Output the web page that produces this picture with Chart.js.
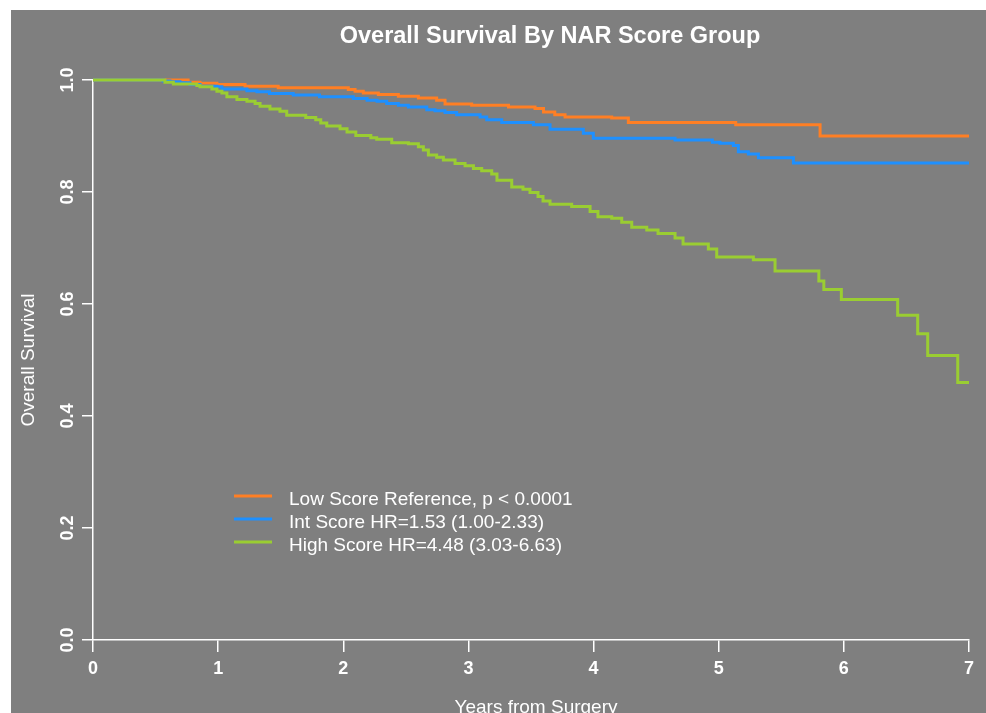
<!DOCTYPE html>
<html>
<head>
<meta charset="utf-8">
<script src="https://cdn.jsdelivr.net/npm/chart.js@4.4.0/dist/chart.umd.min.js"></script>
<style>
html,body{margin:0;padding:0;background:#ffffff;}
#wrap{width:986px;height:713px;}
canvas{display:block;}
</style>
</head>
<body>
<div id="wrap"><canvas id="c" width="986" height="713"></canvas></div>
<script>
// ---------- texts ----------
const TITLE = 'Overall Survival By NAR Score Group';
const X_TITLE = 'Years from Surgery';
const Y_TITLE = 'Overall Survival';
const X_TICKS = [0, 1, 2, 3, 4, 5, 6, 7];
const Y_TICKS = [0, 0.2, 0.4, 0.6, 0.8, 1.0];
const SERIES_LABELS = [
  'Low Score Reference, p < 0.0001',
  'Int Score HR=1.53 (1.00-2.33)',
  'High Score HR=4.48 (3.03-6.63)'
];
const SERIES_COLORS = ['#FF7F24', '#1E90FF', '#9ACD32'];

// ---------- data (years, survival) ----------
const lowTimes = [0, 0.76, 0.855, 0.99, 1.215, 1.48, 2.04, 2.094, 2.16, 2.28, 2.44, 2.60, 2.746, 2.813, 3.026, 3.32, 3.532, 3.60, 3.69, 3.772, 4.145, 4.278, 5.136, 5.81, 7.0];
const lowSurv  = [1, 0.996, 0.994, 0.992, 0.989, 0.986, 0.983, 0.980, 0.977, 0.974, 0.971, 0.968, 0.964, 0.957, 0.955, 0.952, 0.949, 0.943, 0.938, 0.934, 0.932, 0.924, 0.920, 0.900, 0.900];

const intTimes = [0, 0.56, 0.615, 0.695, 0.775, 0.855, 0.99, 1.03, 1.23, 1.31, 1.41, 1.60, 1.81, 2.08, 2.19, 2.27, 2.347, 2.44, 2.52, 2.667, 2.733, 2.813, 2.906, 3.093, 3.146, 3.266, 3.519, 3.652, 3.918, 3.998, 4.651, 4.949, 5.01, 5.117, 5.157, 5.237, 5.317, 5.597, 7.0];
const intSurv  = [1, 0.998, 0.997, 0.995, 0.992, 0.989, 0.988, 0.984, 0.981, 0.979, 0.976, 0.973, 0.970, 0.967, 0.964, 0.962, 0.958, 0.955, 0.952, 0.947, 0.945, 0.942, 0.938, 0.934, 0.929, 0.924, 0.920, 0.912, 0.905, 0.896, 0.893, 0.889, 0.887, 0.883, 0.872, 0.868, 0.861, 0.852, 0.852];

const highTimes = [0, 0.575, 0.642, 0.83, 0.855, 0.95, 0.99, 1.03, 1.07, 1.15, 1.23, 1.295, 1.335, 1.414, 1.494, 1.548, 1.70, 1.78, 1.82, 1.868, 1.974, 2.03, 2.10, 2.22, 2.267, 2.387, 2.52, 2.60, 2.64, 2.68, 2.746, 2.80, 2.893, 2.973, 3.04, 3.106, 3.186, 3.228, 3.346, 3.436, 3.492, 3.556, 3.596, 3.652, 3.825, 3.972, 4.035, 4.145, 4.225, 4.305, 4.425, 4.515, 4.651, 4.715, 4.917, 4.984, 5.277, 5.45, 5.80, 5.84, 5.98, 6.43, 6.59, 6.67, 6.91, 7.0];
const highSurv  = [1, 0.996, 0.993, 0.990, 0.988, 0.984, 0.980, 0.977, 0.970, 0.965, 0.962, 0.958, 0.953, 0.948, 0.944, 0.937, 0.933, 0.929, 0.923, 0.918, 0.913, 0.907, 0.901, 0.897, 0.894, 0.888, 0.886, 0.881, 0.875, 0.866, 0.862, 0.857, 0.851, 0.847, 0.842, 0.838, 0.832, 0.821, 0.809, 0.805, 0.799, 0.792, 0.784, 0.778, 0.774, 0.765, 0.756, 0.753, 0.746, 0.737, 0.732, 0.726, 0.718, 0.707, 0.698, 0.684, 0.679, 0.659, 0.641, 0.626, 0.608, 0.580, 0.547, 0.508, 0.460, 0.460];

// ---------- styling ----------
const FONT = "'Liberation Sans', Arial, Helvetica, sans-serif";
const BG = '#7F7F7F';
const FG = '#FFFFFF';

function pts(times, surv) {
  const n = Math.min(times.length, surv.length);
  const out = [];
  for (let i = 0; i < n; i++) out.push({ x: times[i], y: surv[i] });
  return out;
}

const decor = {
  id: 'decor',
  beforeDraw(chart) {
    const ctx = chart.ctx;
    ctx.save();
    ctx.fillStyle = '#FFFFFF';
    ctx.fillRect(0, 0, chart.width, chart.height);
    ctx.fillStyle = BG;
    ctx.fillRect(11, 10, chart.width - 11, chart.height - 10);
    ctx.restore();
  },
  afterDraw(chart) {
    const ctx = chart.ctx;
    const area = chart.chartArea;
    const ys = chart.scales.y;
    ctx.save();
    ctx.fillStyle = FG;
    // title
    ctx.font = 'bold 23.5px ' + FONT;
    ctx.textAlign = 'center';
    ctx.textBaseline = 'alphabetic';
    ctx.fillText(TITLE, 550, 43);
    // y tick labels (rotated, R style)
    ctx.font = 'bold 18px ' + FONT;
    Y_TICKS.forEach(v => {
      const py = ys.getPixelForValue(v);
      ctx.save();
      ctx.translate(73, py);
      ctx.rotate(-Math.PI / 2);
      ctx.textAlign = 'center';
      ctx.textBaseline = 'alphabetic';
      ctx.fillText(v.toFixed(1), 0, 0);
      ctx.restore();
    });
    // y title
    ctx.font = '19px ' + FONT;
    ctx.save();
    ctx.translate(34, (area.top + area.bottom) / 2);
    ctx.rotate(-Math.PI / 2);
    ctx.textAlign = 'center';
    ctx.fillText(Y_TITLE, 0, 0);
    ctx.restore();
    // x title
    ctx.textAlign = 'center';
    ctx.fillText(X_TITLE, (area.left + area.right) / 2 + 5, 713);
    // legend
    ctx.font = '19px ' + FONT;
    ctx.textAlign = 'left';
    chart.data.datasets.slice().sort((a, b) => a.legendIndex - b.legendIndex).forEach((ds, i) => {
      const cy = 496 + i * 23;
      ctx.strokeStyle = ds.borderColor;
      ctx.lineWidth = 3;
      ctx.beginPath();
      ctx.moveTo(234, cy);
      ctx.lineTo(272, cy);
      ctx.stroke();
      ctx.fillStyle = FG;
      ctx.fillText(ds.label, 289, cy + 8.5);
    });
    ctx.restore();
  }
};

const common = { borderWidth: 3, stepped: true, fill: false, pointRadius: 0, clip: false, borderJoinStyle: 'miter', borderCapStyle: 'butt' };

new Chart(document.getElementById('c'), {
  type: 'line',
  data: {
    datasets: [
      Object.assign({ label: SERIES_LABELS[0], data: pts(lowTimes, lowSurv), borderColor: SERIES_COLORS[0], order: 3, legendIndex: 0 }, common),
      Object.assign({ label: SERIES_LABELS[1], data: pts(intTimes, intSurv), borderColor: SERIES_COLORS[1], order: 2, legendIndex: 1 }, common),
      Object.assign({ label: SERIES_LABELS[2], data: pts(highTimes, highSurv), borderColor: SERIES_COLORS[2], order: 1, legendIndex: 2 }, common)
    ]
  },
  options: {
    responsive: false,
    animation: false,
    devicePixelRatio: 1,
    layout: { padding: { left: 0, top: 80, right: 17, bottom: 0 } },
    plugins: { legend: { display: false }, tooltip: { enabled: false }, title: { display: false } },
    scales: {
      x: {
        type: 'linear', min: 0, max: 7,
        afterBuildTicks(s) { s.ticks = X_TICKS.map(v => ({ value: v })); },
        afterFit(s) { s.height = 73; },
        grid: { drawOnChartArea: false, drawTicks: true, tickLength: 12, color: FG, lineWidth: 1.5 },
        border: { display: true, color: FG, width: 1.5 },
        ticks: { color: FG, font: { family: FONT, size: 18, weight: 'bold' }, padding: 6, maxRotation: 0, autoSkip: false }
      },
      y: {
        type: 'linear', min: 0, max: 1,
        afterBuildTicks(s) { s.ticks = Y_TICKS.map(v => ({ value: v })); },
        afterFit(s) { s.width = 93; },
        grid: { drawOnChartArea: false, drawTicks: true, tickLength: 11, color: FG, lineWidth: 1.5 },
        border: { display: true, color: FG, width: 1.5 },
        ticks: { display: false }
      }
    }
  },
  plugins: [decor]
});
</script>
</body>
</html>
